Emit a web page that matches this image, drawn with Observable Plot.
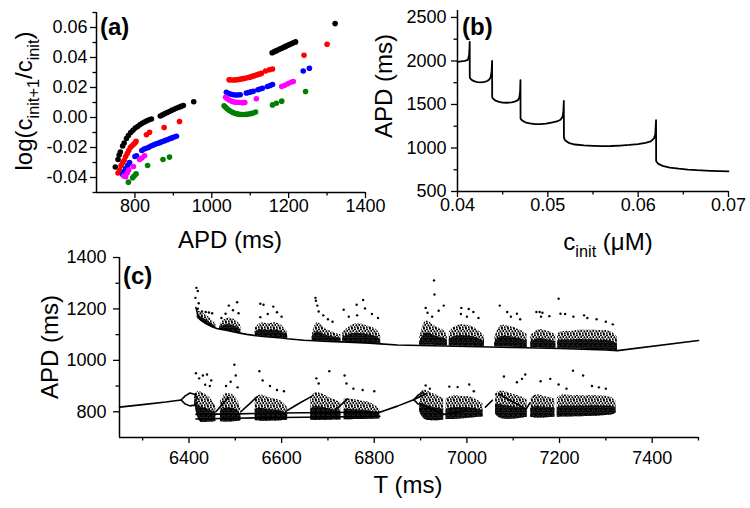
<!DOCTYPE html>
<html><head><meta charset="utf-8">
<script src="https://cdn.jsdelivr.net/npm/d3@7"></script>
<script src="https://cdn.jsdelivr.net/npm/@observablehq/plot@0.6"></script>
<style>
body{margin:0;background:#fff;}
#wrap{position:relative;width:750px;height:508px;overflow:hidden;background:#fff;}
</style></head><body><div id="wrap"></div>
<script>
// ---------------- Panel (a) data ----------------
const aBlackAPD = [749,756,759,762,768,772,778,783,789,795,801,807,813,819,825,831,837,843,866,872,878,884,890,896,902,908,914,920,926,953,
  1157,1162,1167,1172,1177,1182,1187,1192,1197,1202,1207,1212,1218,1321];
const aBlackLog = [-0.033,-0.028,-0.025,-0.023,-0.019,-0.017,-0.014,-0.012,-0.010,-0.0085,-0.007,-0.006,-0.0048,-0.0038,-0.003,-0.0022,-0.0015,-0.001,0.001,0.0018,0.0026,0.0033,0.004,0.0048,0.0055,0.0062,0.0068,0.0074,0.008,0.0105,
  0.0432,0.0438,0.0444,0.045,0.0456,0.0462,0.0468,0.0474,0.048,0.0486,0.0492,0.0498,0.0504,0.0626];
const aRedAPD = [756,760,764,768,772,776,780,784,788,792,796,800,803,830,838,876,916,
  1045,1051,1057,1063,1069,1075,1081,1087,1093,1099,1105,1111,1117,1123,1129,1140,1150,1158,1240,1300];
const aRedLog = [-0.037,-0.035,-0.032,-0.030,-0.0285,-0.026,-0.024,-0.022,-0.020,-0.019,-0.018,-0.017,-0.0158,-0.0115,-0.0098,-0.0067,-0.0027,
  0.0251,0.025,0.025,0.0251,0.0253,0.0256,0.0259,0.0262,0.0265,0.0269,0.0274,0.0279,0.0284,0.0289,0.0294,0.031,0.0318,0.0323,0.0415,0.0488];
const aBlueAPD = [768,772,776,781,786,800,804,818,824,830,836,842,848,854,860,866,872,878,884,890,896,902,908,
  1038,1044,1050,1056,1062,1068,1074,1090,1096,1102,1108,1120,1126,1132,1145,1152,1158,1238,1254];
const aBlueLog = [-0.038,-0.036,-0.034,-0.032,-0.030,-0.026,-0.0255,-0.022,-0.021,-0.0205,-0.0198,-0.019,-0.0183,-0.0177,-0.0172,-0.0166,-0.016,-0.0154,-0.0148,-0.0142,-0.0136,-0.013,-0.0125,
  0.0168,0.016,0.0155,0.0152,0.015,0.015,0.0152,0.0163,0.0167,0.0171,0.0175,0.0185,0.019,0.0195,0.0207,0.0213,0.022,0.031,0.0328];
const aMagAPD = [771,776,780,784,796,812,818,825,
  1036,1040,1046,1052,1058,1064,1072,1080,1086,1116,1182,1190,1198,1206,1212];
const aMagLog = [-0.039,-0.0395,-0.037,-0.035,-0.0327,-0.028,-0.027,-0.0255,
  0.0135,0.0125,0.0115,0.0108,0.0103,0.0101,0.01,0.0099,0.01,0.0125,0.0207,0.0215,0.0225,0.0235,0.024];
const aGreenAPD = [783,794,798,803,833,873,890,
  1032,1036,1040,1045,1050,1055,1060,1066,1072,1078,1084,1090,1096,1102,1108,1114,1158,1168,1182,1244];
const aGreenLog = [-0.0431,-0.0402,-0.039,-0.0376,-0.032,-0.028,-0.0264,
  0.0078,0.0068,0.0058,0.0048,0.004,0.0033,0.0028,0.0024,0.0021,0.002,0.002,0.0021,0.0023,0.0026,0.003,0.0037,0.0084,0.0095,0.0109,0.0173];
const aSeries = [
  {name:"black", color:"#000000", x:aBlackAPD, y:aBlackLog},
  {name:"red", color:"#ff0000", x:aRedAPD, y:aRedLog},
  {name:"blue", color:"#0000ff", x:aBlueAPD, y:aBlueLog},
  {name:"magenta", color:"#ff00ff", x:aMagAPD, y:aMagLog},
  {name:"green", color:"#008000", x:aGreenAPD, y:aGreenLog}
];
const aXTicks = [800,1000,1200,1400], aXMinor = [900,1100,1300];
const aYTicks = [-0.04,-0.02,0,0.02,0.04,0.06], aYMinor = [-0.05,-0.03,-0.01,0.01,0.03,0.05,0.07];

// ---------------- Panel (b) data ----------------
const bC = [0.0400,0.0404,0.0408,0.0411,0.0412,0.04128,0.04133,0.04135,0.04136,0.0414,0.0416,0.0419,0.0422,0.0426,0.0430,0.0433,0.04355,0.04368,0.04378,0.04383,
  0.04384,0.0439,0.0442,0.0446,0.0450,0.0455,0.0460,0.0464,0.0467,0.04685,0.04693,0.04697,
  0.04698,0.0471,0.0475,0.0480,0.0486,0.0492,0.0498,0.0504,0.0510,0.0514,0.05163,0.05172,0.05177,
  0.05178,0.0519,0.0523,0.0530,0.0540,0.0550,0.0560,0.0570,0.0580,0.0590,0.0600,0.0608,0.0614,0.06175,0.0619,0.06198,
  0.06199,0.0622,0.0627,0.0635,0.0645,0.0655,0.0665,0.0680,0.0700];
const bAPD = [1990,1995,2000,2010,2030,2070,2150,2220,1820,1800,1780,1765,1758,1755,1760,1770,1790,1820,1880,2000,
  1590,1570,1545,1530,1522,1520,1525,1535,1550,1580,1650,1780,
  1340,1320,1295,1282,1275,1275,1280,1292,1305,1325,1360,1420,1540,
  1120,1090,1060,1040,1030,1025,1022,1023,1028,1035,1045,1058,1075,1110,1160,1320,
  850,820,795,775,762,752,745,738,732];
const bXTicks = [0.04,0.05,0.06,0.07], bXMinor = [0.045,0.055,0.065];
const bYTicks = [500,1000,1500,2000,2500], bYMinor = [750,1250,1750,2250];

// ---------------- Panel (c) data ----------------
// connecting lines (segment id, T, APD)
const cLineSeg = ["U","U","U","U","U","U","U","U","U","U","U","U","U","U","U","U","U","U","U","U","U","U","U","U","U","U","U","U","U","U","U","U","U","U","U",
  "L0","L0","L0","L0","L1","L1","L1","L1","L1","L2","L2","L2","L2","L2",
  "L3","L3","L3","L3","L3","L4","L4","L4","L4","L4",
  "L5","L5","L5","L6","L6","L6","L7","L7","L7","L8","L8","L8",
  "L9","L9","L9","L9","L9","L9b","L9b","L9b","L10","L10","L10","L11","L11","L11","L12","L12","L12"];
const cLineT = [6415,6420,6430,6440,6450,6460,6470,6480,6495,6510,6525,6540,6560,6580,6600,6612,6630,6648,6670,6700,6742,6790,6813,6850,6900,6950,7000,7050,7100,7150,7200,7250,7300,7325,7500,
  6250,6300,6350,6383,6383,6392,6402,6412,6418,6383,6392,6402,6412,6418,
  6415,6500,6600,6700,6812,6415,6500,6600,6700,6812,
  6458,6470,6485,6512,6530,6545,6612,6640,6665,6718,6730,6742,
  6812,6850,6885,6895,6905,6912,6885,6895,6905,6950,7000,7040,7040,7055,7068,7128,7136,7145];
const cLineAPD = [1205,1172,1152,1140,1131,1124,1120,1117,1111,1106,1101,1097,1093,1090,1087,1084,1081,1078,1076,1074,1071,1067,1064,1060,1058,1056,1054,1052,1050,1048,1046,1043,1040,1038,1077,
  818,828,838,846,846,862,873,868,850,846,830,823,826,838,
  772,775,778,780,782,790,792,795,797,798,
  800,825,855,800,830,855,805,835,860,810,830,850,
  798,822,847,865,875,870,847,830,825,790,805,818,818,845,870,810,835,860];
// dense cores (cluster id, T, low APD, high APD)
const cCoreId = ["U1","U1","U1","U1","U1","U2","U2","U2","U2","U2","U3","U3","U3","U3","U3","U3","U4","U4","U4","U4","U4","U4","U5","U5","U5","U5","U5","U5","U5",
  "U6","U6","U6","U6","U6","U6","U7","U7","U7","U7","U7","U7","U8","U8","U8","U8","U8","U8","U9","U9","U9","U9","U9",
  "U10","U10","U10","U10","U10","U10","U10","U10","U10","U10",
  "L1","L1","L1","L1","L1","L2","L2","L2","L2","L2","L3","L3","L3","L3","L3","L3","L4","L4","L4","L4","L4","L4","L5","L5","L5","L5","L5","L5",
  "L6","L6","L6","L6","L6","L7","L7","L7","L7","L7","L7","L8","L8","L8","L8","L8","L8","L9","L9","L9","L9","L9",
  "L10","L10","L10","L10","L10","L10","L10","L10","L10","L10"];
const cCoreT = [6418,6428,6438,6448,6458,6466,6475,6488,6500,6512,6543,6555,6570,6585,6600,6613,6666,6675,6688,6702,6716,6728,6732,6745,6760,6775,6790,6805,6814,
  6898,6908,6920,6935,6950,6958,6962,6975,6990,7005,7020,7038,7060,7070,7085,7100,7115,7130,7138,7150,7165,7180,7192,
  7196,7210,7225,7240,7255,7270,7285,7300,7315,7325,
  6412,6420,6432,6445,6458,6468,6478,6490,6502,6512,6543,6555,6570,6585,6600,6613,6663,6672,6688,6702,6718,6728,6735,6750,6765,6780,6795,6812,
  6898,6906,6920,6935,6950,6955,6970,6985,7000,7015,7035,7062,7072,7088,7102,7118,7130,7138,7150,7165,7180,7190,
  7195,7210,7225,7240,7255,7270,7285,7300,7315,7322];
const cCoreLo = [1165,1148,1137,1129,1124,1120,1117,1113,1109,1105,1096,1094,1091,1089,1087,1084,1077,1076,1075,1074,1073,1072,1072,1071,1069,1068,1067,1065,1064,
  1059,1059,1059,1058,1057,1057,1056,1056,1055,1055,1054,1053,1053,1052,1052,1051,1050,1050,1049,1049,1048,1047,1047,
  1047,1046,1045,1044,1043,1042,1041,1040,1039,1038,
  835,758,758,760,762,762,760,760,762,765,765,763,763,764,765,767,767,766,767,767,768,768,769,769,770,770,771,772,
  800,770,765,765,768,770,770,772,774,776,780,790,772,770,772,775,778,778,775,776,778,779,
  779,780,780,781,782,783,784,785,787,795];
const cCoreHi = [1195,1185,1175,1160,1140,1135,1160,1165,1160,1135,1125,1150,1140,1150,1140,1110,1100,1160,1130,1115,1105,1100,1110,1130,1145,1140,1130,1125,1095,
  1085,1160,1150,1125,1120,1100,1110,1135,1140,1135,1125,1095,1085,1140,1135,1130,1120,1100,1095,1120,1120,1110,1100,
  1105,1115,1110,1120,1115,1120,1115,1118,1110,1090,
  865,885,870,860,820,840,875,870,860,815,855,870,855,850,845,815,855,880,870,855,845,835,850,850,845,840,835,810,
  870,890,875,865,850,850,865,860,860,855,830,868,885,875,865,860,845,850,870,860,855,850,
  855,870,860,865,860,865,860,862,855,840];
// sparse scattered points (T, APD)
const cDotT = [6416,6419,6414,6421,6419,6428,6436,6443,6450,6486,6504,6479,6507,6495,6470,6554,6561,6582,6590,6554,6600,6570,
  6673,6674,6677,6680,6690,6700,6710,6762,6776,6734,6763,6780,6795,6808,6745,
  6929,6930,6911,6950,6939,6915,6925,6988,7004,6987,7014,7000,7025,7071,7087,7108,7095,7115,
  7150,7157,7163,7198,7160,7178,7202,7212,7230,7253,7260,7280,7300,7315,
  6415,6430,6439,6448,6422,6435,6445,6498,6501,6490,6480,6505,6552,6559,6575,6590,6605,
  6703,6675,6680,6736,6740,6755,6775,6800,6911,6920,6962,6980,7005,7015,7080,7108,7119,7126,
  7159,7180,7198,7229,7251,7270,7285,7300,7215];
const cDotAPD = [1282,1270,1243,1222,1201,1190,1188,1186,1183,1213,1226,1181,1183,1195,1165,1220,1216,1209,1187,1168,1170,1180,
  1243,1232,1213,1190,1175,1160,1150,1216,1235,1197,1175,1202,1180,1165,1170,
  1311,1256,1204,1213,1193,1185,1170,1204,1200,1180,1188,1170,1165,1213,1188,1181,1170,1160,
  1188,1188,1185,1240,1170,1172,1181,1180,1170,1175,1165,1160,1150,1140,
  950,941,945,922,930,905,900,983,941,917,900,895,958,922,900,885,880,
  958,930,910,941,910,890,885,880,902,890,898,896,906,880,937,915,928,945,
  919,928,906,960,941,900,895,890,890];
const cXTicks = [6400,6600,6800,7000,7200,7400], cXMinor = [6300,6500,6700,6900,7100,7300,7500];
const cYTicks = [800,1000,1200,1400], cYMinor = [900,1100,1300];

// ---------------- build ----------------
const FONT = '"Liberation Sans", Arial, Helvetica, sans-serif';
const wrap = document.getElementById("wrap");

// speckle patterns (texture for the dense scatter regions)
const defs = d3.create("svg").attr("width",0).attr("height",0)
  .style("position","absolute").style("left","0px").style("top","0px");
const pd = defs.append("defs");
const sparse = pd.append("pattern").attr("id","speckSparse").attr("patternUnits","userSpaceOnUse").attr("width",6).attr("height",6);
[[1,1.3],[4,0.7],[2.4,3.4],[5.3,2.9],[0.6,5.2],[3.8,5.3]].forEach(([x,y])=>sparse.append("circle").attr("cx",x).attr("cy",y).attr("r",1.05).attr("fill","#000"));
const dense = pd.append("pattern").attr("id","speckDense").attr("patternUnits","userSpaceOnUse").attr("width",5).attr("height",5);
dense.append("rect").attr("width",5).attr("height",5).attr("fill","#2a2a2a");
[[1,1],[3.6,1.6],[2,3.6],[4.4,4.2],[0.3,4]].forEach(([x,y])=>dense.append("circle").attr("cx",x).attr("cy",y).attr("r",1.1).attr("fill","#000"));
wrap.appendChild(defs.node());

function axisMarks(o){
  return [
    Plot.ruleX([o.x0], {stroke:"#000", strokeWidth:1.5}),
    Plot.ruleY([o.y0], {stroke:"#000", strokeWidth:1.5}),
    Plot.axisX(o.xt, {anchor:"bottom", tickSize:6, tickPadding:o.xpad, strokeWidth:1.3, fontSize:o.fs, tickFormat:o.xf, label:null}),
    Plot.axisX(o.xm, {anchor:"bottom", tickSize:3.5, strokeWidth:1.3, tickFormat:()=>"", label:null}),
    Plot.axisY(o.yt, {anchor:"left", tickSize:6, tickPadding:o.ypad, strokeWidth:1.3, fontSize:o.fs, tickFormat:o.yf, label:null}),
    Plot.axisY(o.ym, {anchor:"left", tickSize:3.5, strokeWidth:1.3, tickFormat:()=>"", label:null})
  ];
}
function place(svg, left, top){
  svg.style.position = "absolute";
  svg.style.left = left + "px";
  svg.style.top = top + "px";
  wrap.appendChild(svg);
}
const baseStyle = {fontFamily: FONT, color:"#000", background:"transparent", overflow:"visible"};

// Panel (a)
const aRows = aSeries.flatMap(s => s.x.map((v,i) => ({apd:v, val:s.y[i], color:s.color, name:s.name})));
const plotA = Plot.plot({
  width:375, height:250, marginLeft:96, marginRight:10, marginTop:12, marginBottom:58,
  style: baseStyle,
  x:{domain:[700,1400], label:null},
  y:{domain:[-0.05,0.07], label:null},
  marks:[
    ...axisMarks({x0:700, y0:-0.05, xt:aXTicks, xm:aXMinor, yt:aYTicks, ym:aYMinor, xpad:1, ypad:3, fs:18,
      xf:d=>String(d), yf:d=>d.toFixed(2)}),
    Plot.dot(aRows, {x:"apd", y:"val", fill:d=>d.color, r:2.8, stroke:null})
  ]
});
place(plotA, 0, 0);

// Panel (b)
const bRows = bC.map((c,i)=>({c, apd:bAPD[i]}));
const plotB = Plot.plot({
  width:375, height:250, marginLeft:82, marginRight:22, marginTop:10, marginBottom:59,
  style: baseStyle,
  x:{domain:[0.04,0.07], label:null},
  y:{domain:[500,2580], label:null},
  marks:[
    ...axisMarks({x0:0.04, y0:500, xt:bXTicks, xm:bXMinor, yt:bYTicks, ym:bYMinor, xpad:1, ypad:5, fs:18,
      xf:d=>d.toFixed(2), yf:d=>String(d)}),
    Plot.line(bRows, {x:"c", y:"apd", stroke:"#000", strokeWidth:1.8, curve:"linear"})
  ]
});
place(plotB, 375, 0);

// Panel (c)
const cLines = cLineT.map((t,i)=>({T:t, apd:cLineAPD[i], seg:cLineSeg[i]}));
const cCores = cCoreT.map((t,i)=>({T:t, lo:cCoreLo[i], hi:cCoreHi[i], id:cCoreId[i]}));
const cDots = cDotT.map((t,i)=>({T:t, apd:cDotAPD[i]}));
const plotC = Plot.plot({
  width:750, height:258, marginLeft:119, marginRight:52, marginTop:7, marginBottom:71,
  style: baseStyle,
  x:{domain:[6250,7500], label:null},
  y:{domain:[700,1400], label:null},
  marks:[
    ...axisMarks({x0:6250, y0:700, xt:cXTicks, xm:cXMinor, yt:cYTicks, ym:cYMinor, xpad:8, ypad:7, fs:18,
      xf:d=>String(d), yf:d=>String(d)}),
    Plot.areaY(cCores, {x:"T", y1:"lo", y2:"hi", z:"id", fill:"url(#speckSparse)", curve:"basis"}),
    Plot.areaY(cCores, {x:"T", y1:"lo", y2:d=>d.lo + 0.5*(d.hi-d.lo), z:"id", fill:"url(#speckDense)", curve:"basis"}),
    Plot.line(cLines, {x:"T", y:"apd", z:"seg", stroke:"#000", strokeWidth:1.6}),
    Plot.dot(cDots, {x:"T", y:"apd", fill:"#000", r:1.2, stroke:null})
  ]
});
place(plotC, 0, 250);

// Text overlay
const overlay = d3.create("svg").attr("width",750).attr("height",508)
  .style("position","absolute").style("left","0px").style("top","0px")
  .style("font-family", FONT);
function addText(x,y,rot,anchor,size,weight,parts){
  const t = overlay.append("text")
    .attr("transform",`translate(${x},${y}) rotate(${rot})`)
    .attr("text-anchor",anchor).attr("font-size",size).attr("font-weight",weight).attr("fill","#000");
  let down = false;
  parts.forEach(([s,sub])=>{
    const sp = t.append("tspan").text(s);
    if (sub && !down){ sp.attr("font-size", size*0.68).attr("dy", size*0.28); down = true; }
    else if (sub && down){ sp.attr("font-size", size*0.68); }
    else if (!sub && down){ sp.attr("dy", -size*0.28); down = false; }
  });
}
addText(100,35,0,"start",24,"bold",[["(a)",false]]);
addText(462,35,0,"start",24,"bold",[["(b)",false]]);
addText(123,284,0,"start",24,"bold",[["(c)",false]]);
addText(230,248,0,"middle",24,"normal",[["APD (ms)",false]]);
addText(32,101,-90,"middle",24,"normal",[["log(c",false],["init+1",true],["/c",false],["init",true],[")",false]]);
addText(608,250,0,"middle",24,"normal",[["c",false],["init",true],[" (μM)",false]]);
addText(392,86,-90,"middle",24,"normal",[["APD (ms)",false]]);
addText(58,347,-90,"middle",24,"normal",[["APD (ms)",false]]);
addText(408,493,0,"middle",24,"normal",[["T (ms)",false]]);
wrap.appendChild(overlay.node());
</script></body></html>
